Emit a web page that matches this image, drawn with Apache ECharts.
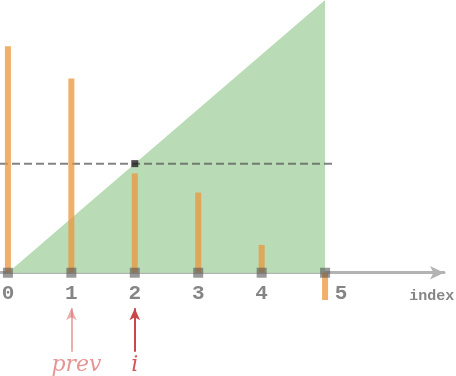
<!DOCTYPE html>
<html>
<head>
<meta charset="utf-8">
<script src="https://cdn.jsdelivr.net/npm/echarts@6/dist/echarts.min.js"></script>
<style>
  html, body { margin: 0; padding: 0; background: #fff; }
  #chart { width: 456px; height: 376px; }
</style>
</head>
<body>
<div id="chart"></div>
<script>
// data
var indices = [0, 1, 2, 3, 4, 5];
var barValues = [4.15, 3.56, 1.82, 1.47, 0.51, -0.50];
var tickLabels = ['0', '1', '2', '3', '4', '5'];
var triangleEdge = [[0, 0], [5, 5]];
var levelValue = 2;
var levelSpan = [-0.125, 5.13];
var pointerNames = ['prev', 'i'];
var pointerIndex = [1, 2];
var pointerFrom = -1.45;
var pointerTo = -0.65;
var pointerTextY = -1.69;
var axisTitle = 'index';
var axisTitleX = 6.68;

function initChart() {
  var el = document.getElementById('chart');
  var chart = echarts.init(el);

  var barData = [];
  var tickData = [];
  for (var i = 0; i < indices.length; i++) {
    barData.push([indices[i], barValues[i]]);
    var tick = {value: [indices[i], 0], name: tickLabels[i]};
    // last label is pushed aside by the negative bar
    if (i === indices.length - 1) {
      tick.label = {offset: [16, 0]};
    }
    tickData.push(tick);
  }

  var arrowColors = ['rgba(220,110,110,0.55)', '#c9474a'];
  var textColors = ['#e07a7a', '#c42f2f'];

  var arrowLines = [];
  var noteData = [];
  for (var p = 0; p < pointerNames.length; p++) {
    arrowLines.push([
      {coord: [pointerIndex[p], pointerFrom], lineStyle: {color: arrowColors[p]}},
      {coord: [pointerIndex[p], pointerTo]}
    ]);
    noteData.push({
      value: [pointerIndex[p] + (p === 0 ? 0.08 : 0), pointerTextY],
      name: pointerNames[p],
      label: {color: textColors[p]}
    });
  }

  chart.setOption({
    animation: false,
    grid: {left: 0, right: 12, top: 0, bottom: 1},
    xAxis: {
      type: 'value',
      min: -0.125,
      max: 6.875,
      axisLine: {
        onZero: true,
        symbol: ['none', 'arrow'],
        symbolSize: [10, 14],
        lineStyle: {color: '#b3b3b3', width: 3}
      },
      axisTick: {show: false},
      axisLabel: {show: false},
      splitLine: {show: false}
    },
    yAxis: {
      type: 'value',
      min: -1.875,
      max: 5,
      show: false,
      splitLine: {show: false}
    },
    series: [
      {
        name: 'area',
        type: 'line',
        data: triangleEdge,
        symbol: 'none',
        lineStyle: {width: 0},
        areaStyle: {color: '#b9dcb6', opacity: 1},
        z: 1
      },
      {
        name: 'level',
        type: 'line',
        data: [[levelSpan[0], levelValue], [levelSpan[1], levelValue]],
        symbol: 'none',
        lineStyle: {color: 'rgba(90,90,90,0.75)', width: 2, type: [8, 4]},
        z: 2
      },
      {
        name: 'values',
        type: 'bar',
        data: barData,
        barWidth: 6,
        itemStyle: {color: 'rgba(235,150,59,0.75)'},
        z: 3
      },
      {
        name: 'ticks',
        type: 'scatter',
        data: tickData,
        symbol: 'rect',
        symbolSize: 10,
        itemStyle: {color: 'rgba(85,85,85,0.75)'},
        label: {
          show: true,
          position: 'bottom',
          distance: 5,
          formatter: '{b}',
          fontFamily: 'Liberation Mono',
          fontWeight: 'bold',
          fontSize: 21,
          color: '#666'
        },
        z: 4
      },
      {
        name: 'axisTitle',
        type: 'scatter',
        data: [{value: [axisTitleX, 0], name: axisTitle}],
        symbolSize: 0,
        label: {
          show: true,
          position: 'inside',
          offset: [0, 23],
          formatter: '{b}',
          fontFamily: 'Liberation Mono',
          fontWeight: 'bold',
          fontSize: 15,
          color: '#666'
        },
        z: 4
      },
      {
        name: 'hit',
        type: 'scatter',
        data: [[levelValue, levelValue]],
        symbol: 'rect',
        symbolSize: 7,
        itemStyle: {color: '#222'},
        z: 5
      },
      {
        name: 'notes',
        type: 'scatter',
        data: noteData,
        symbolSize: 0,
        label: {
          show: true,
          position: 'inside',
          formatter: '{b}',
          fontFamily: 'DejaVu Serif',
          fontStyle: 'italic',
          fontSize: 22
        },
        markLine: {
          silent: true,
          symbol: ['none', 'arrow'],
          symbolSize: [8, 12],
          label: {show: false},
          lineStyle: {type: 'solid', width: 2},
          data: arrowLines
        },
        z: 5
      }
    ]
  });
}

initChart();
</script>
</body>
</html>
